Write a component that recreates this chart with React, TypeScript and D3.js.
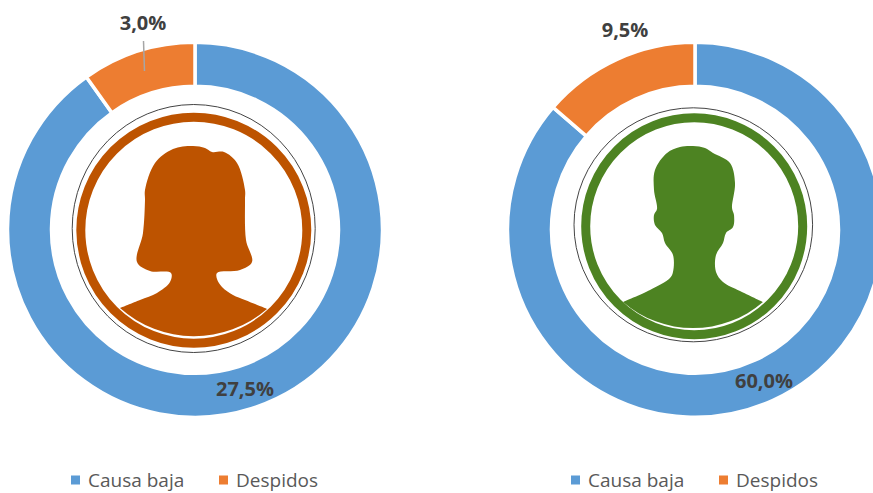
import React from "react";
import * as d3 from "d3";

const categories = ["Causa baja", "Despidos"];
const colors = ["#5B9BD5", "#ED7D31"];
const womenValues = [27.5, 3.0];
const menValues = [60.0, 9.5];
const womenLabels = ["27,5%", "3,0%"];
const menLabels = ["60,0%", "9,5%"];

type P = [number, number];
const womanOutline: P[] = [
  [267, 309], [245, 300], [233, 295], [222, 287], [217, 279], [217, 273], [240, 270], [252, 262], [246, 240], [245, 200], [245, 190],
  [237, 163], [224, 152], [212, 152], [205, 148], [193, 146], [173, 149], [155, 163], [145, 190], [145, 200], [143, 233], [137, 262], [150, 271],
  [171, 273], [170, 282], [157, 293], [140, 300], [120, 308],
];
const manOutline: P[] = [
  [763, 302], [740, 291], [723, 282], [716, 272], [716, 255], [723, 243], [726, 233], [733, 227], [734, 215], [732, 208], [735, 183], [730, 163],
  [713, 153], [705, 148], [693, 146], [680, 147], [667, 153], [655, 170], [654, 190], [657, 209], [654, 215], [655, 225], [662, 233], [665, 243],
  [673, 255], [673, 272], [670, 278], [650, 290], [623, 302],
];

const curve = d3.line<P>().x(d => d[0]).y(d => d[1]).curve(d3.curveCatmullRom.alpha(0.5));

function Donut({ cx, values, labels, labelPos, color, outline, ring, outer }: any) {
  const cy = 229.8;
  const pie = d3.pie<number>().sort(null).startAngle(0).endAngle(2 * Math.PI)(values);
  const arc = d3.arc<any>().innerRadius(143.5).outerRadius(187.5);
  const path = curve(outline) + ` A ${ring.r - 9} ${ring.r - 9} 0 0 1 ${outline[outline.length - 1][0]} ${outline[outline.length - 1][1]}`;
  const first = outline[0];
  const last = outline[outline.length - 1];
  const silhouette = curve(outline) + ` A ${ring.r - 6} ${ring.r - 6} 0 0 0 ${first[0]} ${first[1]} Z`;
  void path; void last;
  return (
    <g>
      <g transform={`translate(${cx},${cy})`}>
        {pie.map((s, i) => (
          <path key={i} d={arc(s) as string} fill={colors[i]} stroke="#fff" strokeWidth={3.5} />
        ))}
      </g>
      <ellipse cx={outer.cx} cy={outer.cy} rx={outer.rx} ry={outer.ry} fill="#fff" stroke="#444" strokeWidth={1} />
      <g filter="url(#soft)">
        <circle cx={ring.cx} cy={ring.cy} r={ring.r - 4.5} fill="none" stroke={color} strokeWidth={9} />
        <path d={silhouette} fill={color} />
      </g>
      {labels.map((t: string, i: number) => (
        <text key={t} x={labelPos[i][0]} y={labelPos[i][1]} textAnchor="middle" fontFamily="'Open Sans', sans-serif" fontWeight={700} fontSize={20} fill="#404040">{t}</text>
      ))}
    </g>
  );
}

function Legend({ xs }: { xs: number[] }) {
  return (
    <g>
      {categories.map((c, i) => (
        <g key={c}>
          <rect x={xs[i]} y={475.5} width={9} height={9} fill={colors[i]} />
          <text x={xs[i] + 17} y={486.5} fontFamily="'Open Sans', sans-serif" fontSize={19} fill="#595959">{c}</text>
        </g>
      ))}
    </g>
  );
}

export default function App() {
  return (
    <svg width={873} height={493} style={{ position: "absolute", left: 0, top: 0, background: "#fff" }}>
      <defs>
        <filter id="soft" x="-5%" y="-5%" width="110%" height="110%">
          <feGaussianBlur stdDeviation={0.6} />
        </filter>
      </defs>
      <Donut
        cx={195}
        values={womenValues}
        labels={womenLabels}
        labelPos={[[245, 396], [143, 30]]}
        color="#BD5306"
        outline={womanOutline}
        ring={{ cx: 193.8, cy: 230.2, r: 117.5 }}
        outer={{ cx: 193.7, cy: 228.5, rx: 121.5, ry: 124 }}
      />
      <line x1={143.5} y1={41} x2={144.5} y2={71} stroke="#A6A6A6" strokeWidth={1.5} />
      <Donut
        cx={695}
        values={menValues}
        labels={menLabels}
        labelPos={[[764, 388], [625, 37]]}
        color="#4D8321"
        outline={manOutline}
        ring={{ cx: 694.2, cy: 226.3, r: 113 }}
        outer={{ cx: 693.3, cy: 224.8, rx: 119.3, ry: 117 }}
      />
      <Legend xs={[71, 219]} />
      <Legend xs={[571, 719]} />
    </svg>
  );
}
